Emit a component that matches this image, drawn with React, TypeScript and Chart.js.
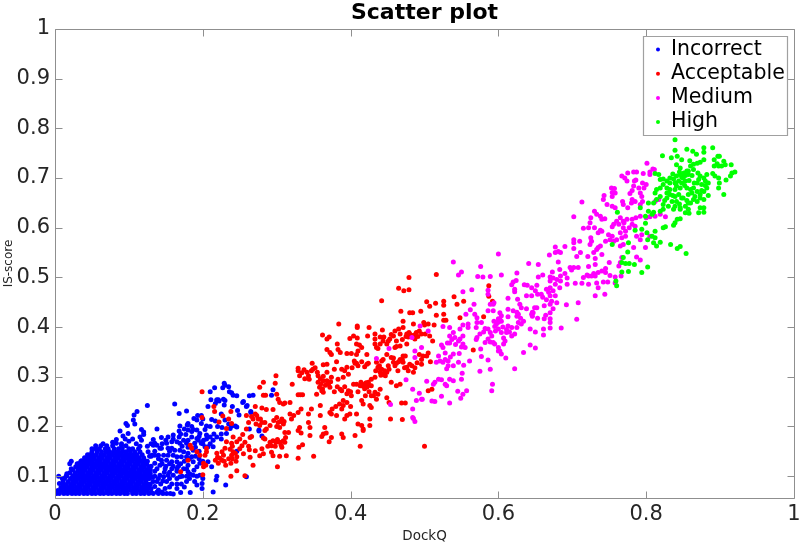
import React, { useEffect, useRef } from "react";
import { Chart, registerables } from "chart.js";

Chart.register(...registerables);

const xTickValues = [0, 0.2, 0.4, 0.6, 0.8, 1];
const yTickValues = [0.1, 0.2, 0.3, 0.4, 0.5, 0.6, 0.7, 0.8, 0.9, 1];
const seriesNames = ["Incorrect", "Acceptable", "Medium", "High"];
const seriesColors = ["#0000ff", "#ff0000", "#ff00ff", "#00ff00"];

// Dense mass near the origin: [IS-score, DockQ values...]
const incorrectDenseRows: [number, number[]][] = [
  [0.065, [.002,.006,.012,.017,.023,.028,.033,.039,.044,.05,.055,.061,.066,.072,.077,.083,.088,.094,.098,.105,.11,.116,.121,.127,.133,.14,.146,.151,.156]],
  [0.071, [.004,.009,.015,.02,.026,.031,.037,.042,.048,.053,.059,.064,.07,.075,.081,.086,.092,.097,.103,.108,.114,.119,.124]],
  [0.077, [.008,.012,.018,.023,.029,.034,.04,.045,.051,.056,.062,.067,.073,.078,.084,.089,.095,.1,.106,.111,.117,.122,.127]],
  [0.083, [.011,.015,.021,.026,.032,.037,.043,.048,.054,.059,.065,.07,.076,.081,.087,.092,.098,.103,.109,.114,.12,.125]],
  [0.089, [.011,.018,.024,.029,.035,.04,.046,.051,.057,.062,.068,.073,.079,.084,.09,.095,.101,.106,.112,.117,.123]],
  [0.095, [.013,.021,.027,.032,.038,.043,.049,.054,.06,.065,.071,.076,.082,.087,.093,.098,.104,.109,.115,.12,.126]],
  [0.101, [.016,.024,.03,.035,.041,.046,.052,.057,.063,.068,.074,.079,.085,.09,.096,.101,.107,.112,.118,.123,.128]],
  [0.107, [.02,.027,.033,.038,.044,.049,.055,.06,.066,.071,.077,.082,.088,.093,.099,.104,.11,.115,.121,.126]],
  [0.113, [.024,.031,.036,.041,.047,.052,.058,.063,.069,.074,.08,.085,.091,.096,.102,.107,.113,.118,.124,.129]],
  [0.119, [.028,.034,.039,.044,.05,.055,.061,.066,.072,.077,.083,.088,.094,.099,.105,.11,.116,.121,.127]],
  [0.125, [.032,.037,.042,.047,.053,.058,.064,.069,.075,.08,.086,.091,.097,.102,.108,.113,.119,.124]],
  [0.131, [.036,.04,.045,.05,.056,.061,.067,.072,.078,.083,.089,.094,.1,.105,.111,.116,.122]],
  [0.137, [.04,.043,.048,.053,.059,.064,.07,.075,.081,.086,.092,.097,.103,.108,.114,.12]],
  [0.143, [.044,.047,.051,.056,.062,.067,.073,.078,.084,.089,.095,.1,.106,.111,.118]],
  [0.149, [.05,.057,.063,.069,.074,.08,.085,.091,.096,.102,.108,.115]],
  [0.155, [.055,.06,.068,.072,.08,.086,.091,.1,.105,.113]],
  [0.161, [.055,.062,.07,.078,.09,.096]],
];

const incorrectSparse: [number, number][] = [
[.229,.287],[.235,.280],[.216,.278],[.210,.270],[.227,.278],[.230,.283],[.236,.270],[.239,.268],[.241,.263],[.246,.262],[.211,.254],[.219,.254],[.221,.254],[.219,.252],[.222,.251],[.230,.252],[.229,.243],[.217,.246],[.207,.240],[.263,.262],[.268,.263],[.254,.248],[.259,.240],[.247,.232],[.249,.223],[.265,.228],[.168,.226],[.178,.231],[.162,.245],[.125,.242],[.111,.230],[.107,.223],[.106,.213],[.108,.205],[.096,.206],[.098,.202],[.088,.191],[.099,.186],[.092,.181],[.138,.195],[.169,.201],[.168,.191],[.180,.206],[.179,.203],[.188,.216],[.193,.222],[.198,.222],[.192,.213],[.198,.206],[.205,.201],[.212,.214],[.217,.211],[.226,.198],[.230,.213],[.239,.201],[.244,.201],[.246,.199],[.237,.196],[.263,.195],[.276,.191],[.280,.181],[.259,.099],[.231,.082],[.214,.068],[.219,.100],[.218,.092],[.200,.095],[.199,.085],[.199,.075],[.183,.067],[.170,.067],[.160,.064],[.117,.194],[.120,.189],[.115,.179],[.120,.184],[.117,.172],[.083,.174],[.083,.166],[.133,.174],[.135,.166],[.144,.178],[.153,.179],[.160,.183],[.168,.179],[.177,.184],[.180,.193],[.187,.194],[.192,.193],[.196,.186],[.203,.194],[.205,.183],[.210,.179],[.214,.172],[.219,.179],[.225,.175],[.232,.186],[.246,.150],[.214,.159],[.207,.159],[.201,.172],[.192,.176],[.185,.179],[.180,.172],[.178,.166],[.174,.172],[.169,.166],[.165,.169],[.158,.169],[.151,.166],[.144,.156],[.153,.156],[.158,.156],[.162,.152],[.169,.152],[.174,.149],[.180,.146],[.187,.152],[.189,.166],[.194,.172],[.198,.166],[.203,.159],[.185,.139],[.178,.139],[.171,.139],[.165,.139],[.160,.142],[.153,.142],[.147,.142],[.140,.142],[.135,.142],[.131,.142],[.133,.162],[.138,.162],[.142,.156],[.126,.149],[.144,.132],[.151,.132],[.158,.129],[.165,.129],[.180,.122],[.187,.129],[.192,.119],[.207,.129],[.212,.119],[.196,.126],[.142,.122],[.135,.126],[.138,.115],[.149,.115],[.158,.115],[.167,.120],[.174,.115],[.178,.115],[.180,.109],[.187,.102],[.192,.100],[.196,.102],[.183,.104],[.169,.099],[.160,.102],[.153,.102],[.147,.099],[.142,.102],[.135,.100],[.151,.089],[.158,.084],[.165,.084],[.171,.084],[.178,.089],[.189,.089],[.192,.082],[.138,.089],[.143,.084],[.133,.089],[.149,.075],[.135,.079],[.129,.084],[.124,.085],[.120,.099],[.129,.105],[.124,.112],[.120,.119],[.295,.274],[.293,.263],[.255,.250],[.260,.242],[.265,.230],[.276,.193],
[.125,.13],[.13,.12],[.135,.11],[.128,.14],[.14,.135],[.145,.125],[.15,.12],[.155,.125],[.16,.12],[.165,.115],[.17,.125],[.175,.13],[.182,.135],[.19,.14],[.195,.135],[.2,.13],[.188,.112],[.178,.1],[.165,.11],[.155,.108],[.148,.108],[.14,.095],[.128,.095],[.132,.098],[.146,.09],[.155,.095],[.165,.095],[.172,.1],[.182,.095],[.13,.075],[.14,.072],[.155,.078],[.165,.075],[.175,.078],[.13,.068],[.138,.068],[.145,.068],[.125,.075],[.13,.14],[.135,.15],[.125,.16],[.13,.165],[.145,.165],[.15,.172],[.16,.175],[.172,.16],[.18,.158],[.19,.158],[.195,.15],[.155,.15],[.2,.165],[.21,.165],[.205,.175],[.195,.18],[.185,.19],[.175,.195],[.17,.185],[.215,.185],[.22,.2],[.21,.2],[.185,.2],[.2,.215],[.225,.185],[.235,.205],[.225,.225],[.24,.24],[.228,.255],[.11,.165],[.115,.16],[.1,.17],[.105,.175],[.09,.165],[.078,.168],[.095,.175],[.065,.165],[.05,.155],[.035,.13],[.03,.125],[.022,.115],[.015,.1],[.01,.095],[.006,.085],[.005,.1],[.02,.125],[.022,.13],[.016,.105],
];

const acceptable: [number, number][] = [
[.479,.500],[.516,.506],[.465,.478],[.472,.473],[.479,.475],[.442,.453],[.503,.451],[.507,.442],[.515,.448],[.526,.452],[.526,.444],[.540,.461],[.544,.446],[.553,.452],[.587,.483],[.587,.462],[.592,.452],[.468,.432],[.480,.429],[.484,.429],[.495,.432],[.516,.424],[.526,.426],[.526,.414],[.529,.414],[.548,.419],[.566,.354],[.580,.421],[.384,.406],[.409,.402],[.409,.399],[.425,.399],[.362,.384],[.371,.380],[.368,.376],[.433,.386],[.443,.394],[.404,.382],[.399,.377],[.409,.378],[.423,.382],[.433,.376],[.444,.372],[.453,.376],[.460,.392],[.465,.396],[.471,.399],[.471,.412],[.485,.406],[.499,.409],[.500,.404],[.505,.406],[.513,.404],[.476,.386],[.467,.386],[.458,.382],[.451,.372],[.449,.366],[.440,.366],[.433,.366],[.480,.386],[.485,.379],[.489,.389],[.496,.386],[.507,.382],[.511,.372],[.487,.376],[.467,.362],[.476,.366],[.462,.361],[.501,.386],[.460,.359],[.382,.366],[.383,.355],[.368,.355],[.372,.349],[.374,.345],[.386,.349],[.395,.347],[.401,.347],[.408,.366],[.412,.364],[.415,.359],[.410,.352],[.408,.345],[.435,.359],[.437,.357],[.422,.345],[.449,.345],[.424,.327],[.422,.325],[.406,.327],[.408,.327],[.381,.330],[.368,.325],[.363,.324],[.348,.327],[.349,.315],[.329,.317],[.329,.312],[.337,.314],[.331,.302],[.341,.309],[.343,.302],[.344,.295],[.355,.309],[.356,.302],[.363,.301],[.368,.309],[.378,.315],[.388,.315],[.395,.319],[.392,.312],[.397,.305],[.390,.299],[.383,.295],[.374,.299],[.363,.292],[.370,.285],[.356,.289],[.358,.279],[.299,.302],[.282,.289],[.277,.279],[.298,.287],[.321,.285],[.282,.263],[.285,.263],[.300,.265],[.302,.255],[.304,.248],[.309,.245],[.311,.247],[.318,.248],[.332,.264],[.329,.264],[.335,.264],[.354,.265],[.361,.272],[.363,.269],[.372,.279],[.386,.275],[.388,.272],[.397,.272],[.401,.262],[.404,.285],[.408,.285],[.413,.282],[.419,.285],[.424,.289],[.422,.279],[.428,.295],[.433,.299],[.440,.309],[.444,.305],[.449,.309],[.442,.315],[.437,.319],[.435,.329],[.442,.332],[.444,.335],[.455,.339],[.451,.322],[.458,.329],[.460,.322],[.462,.327],[.467,.335],[.471,.342],[.474,.342],[.471,.329],[.480,.325],[.476,.319],[.478,.312],[.483,.322],[.498,.342],[.496,.335],[.503,.342],[.496,.325],[.462,.282],[.455,.289],[.467,.285],[.485,.309],[.433,.269],[.437,.265],[.428,.262],[.431,.262],[.415,.252],[.417,.245],[.426,.242],[.428,.238],[.449,.258],[.452,.248],[.469,.247],[.474,.247],[.454,.215],[.470,.214],[.500,.160],[.505,.272],[.510,.275],[.359,.242],[.347,.235],[.343,.225],[.359,.222],[.372,.228],[.374,.225],[.381,.222],[.390,.252],[.390,.242],[.388,.235],[.395,.222],[.392,.215],[.399,.225],[.408,.225],[.410,.205],[.415,.202],[.417,.195],[.417,.192],[.426,.215],[.426,.202],[.413,.160],[.406,.182],[.388,.185],[.390,.178],[.374,.178],[.365,.198],[.363,.185],[.367,.187],[.371,.169],[.361,.180],[.343,.208],[.345,.198],[.345,.182],[.331,.198],[.329,.192],[.333,.187],[.330,.158],[.335,.163],[.329,.228],[.333,.235],[.318,.225],[.323,.222],[.320,.215],[.316,.188],[.311,.188],[.309,.171],[.311,.168],[.307,.158],[.295,.171],[.299,.168],[.304,.168],[.291,.168],[.293,.161],[.286,.195],[.284,.192],[.291,.202],[.300,.218],[.302,.208],[.307,.215],[.309,.205],[.277,.202],[.275,.215],[.273,.222],[.271,.225],[.280,.208],[.284,.208],[.271,.240],[.280,.237],[.286,.234],[.295,.234],[.259,.222],[.262,.208],[.259,.195],[.264,.178],[.266,.180],[.254,.184],[.257,.168],[.253,.161],[.263,.153],[.271,.151],[.282,.177],[.284,.175],[.280,.155],[.277,.141],[.282,.145],[.293,.148],[.295,.141],[.304,.140],[.313,.141],[.264,.138],[.350,.140],[.329,.136],
[.199,.270],[.215,.240],[.216,.230],[.199,.218],[.222,.209],[.238,.230],[.235,.215],[.232,.196],[.227,.221],[.239,.206],[.183,.162],[.185,.156],[.192,.149],[.196,.142],[.205,.156],[.205,.149],[.203,.142],[.180,.132],[.201,.126],[.204,.122],[.201,.119],[.170,.109],[.200,.103],[.219,.146],[.226,.149],[.228,.142],[.223,.136],[.217,.132],[.221,.126],[.231,.122],[.238,.126],[.226,.132],[.239,.142],[.244,.146],[.246,.139],[.241,.149],[.239,.166],[.246,.169],[.241,.179],[.232,.169],[.230,.156],[.237,.154],[.238,.100],[.246,.111],[.257,.101],[.268,.122],[.301,.119],
[.417,.281],[.421,.288],[.425,.283],[.419,.276],[.428,.282],[.414,.289],[.478,.380],[.482,.383],[.486,.384],[.479,.389],[.491,.381],[.475,.381],[.493,.392],[.44,.316],[.446,.312],[.441,.303],[.447,.302],[.452,.315],[.439,.322],[.434,.312],[.360,.286],[.366,.283],[.362,.276],[.368,.292],[.373,.290],[.359,.296],[.405,.332],[.41,.322],[.402,.318],[.415,.33],[.419,.320],[.378,.270],[.382,.280],[.392,.280],[.395,.266],[.40,.27],[.305,.21],[.300,.2],[.296,.212],[.304,.198],[.31,.21],[.268,.215],[.272,.205],[.278,.215],[.266,.22],[.306,.162],[.301,.174],[.312,.178],[.298,.16],[.288,.16],[.465,.33],[.47,.335],[.458,.338],[.473,.318],[.464,.312],[.487,.318],[.49,.328],[.505,.348],[.493,.345],[.508,.33],[.334,.308],[.338,.296],[.347,.312],[.352,.318],[.385,.245],[.395,.248],[.38,.24],[.375,.235],[.40,.24],[.44,.275],[.425,.27],[.41,.27],[.42,.262],[.435,.255],[.445,.38],[.455,.385],[.44,.38],[.462,.372],[.47,.375],[.235,.135],[.229,.13],[.24,.135],[.245,.13],[.22,.138],[.24,.16],[.25,.155],[.25,.175],[.255,.145],[.262,.16],
];

const medium: [number, number][] = [
[.600,.547],[.539,.531],[.550,.511],[.546,.505],[.576,.522],[.572,.502],[.579,.501],[.589,.502],[.604,.505],[.625,.509],[.641,.528],[.654,.526],[.624,.494],[.620,.491],[.618,.485],[.622,.476],[.622,.471],[.635,.485],[.639,.484],[.645,.479],[.652,.484],[.660,.505],[.654,.501],[.670,.501],[.674,.499],[.670,.493],[.673,.511],[.669,.545],[.677,.550],[.681,.552],[.677,.561],[.681,.531],[.683,.516],[.679,.496],[.677,.486],[.683,.479],[.708,.449],[.706,.416],[.692,.445],[.685,.398],[.744,.466],[.731,.463],
[.670,.398],[.661,.384],[.650,.390],[.643,.396],[.650,.358],[.643,.364],[.634,.349],[.622,.316],[.610,.338],[.604,.346],[.600,.352],[.586,.334],[.577,.341],[.576,.356],[.575,.311],[.589,.315],[.592,.285],[.591,.272],[.557,.272],[.552,.265],[.545,.271],[.549,.257],[.534,.247],[.523,.261],[.514,.250],[.510,.251],[.497,.255],[.489,.252],[.484,.235],[.484,.218],[.493,.267],[.484,.275],[.475,.294],[.503,.291],[.512,.285],[.514,.289],[.519,.295],[.523,.294],[.528,.285],[.530,.282],[.534,.295],[.539,.292],[.550,.295],[.551,.307],[.561,.332],[.553,.323],[.546,.329],[.539,.322],[.530,.316],[.532,.322],[.532,.332],[.525,.329],[.519,.342],[.521,.332],[.516,.329],[.539,.346],[.547,.347],[.528,.348],[.523,.364],[.525,.359],[.531,.368],[.534,.368],[.548,.376],[.552,.366],[.555,.359],[.546,.372],[.552,.382],[.541,.379],[.534,.382],[.539,.389],[.548,.396],[.552,.404],[.559,.406],[.559,.399],[.534,.399],[.525,.401],[.556,.426],[.562,.435],[.567,.446],[.552,.471],[.564,.475],[.568,.426],[.571,.419],[.571,.409],[.577,.409],[.570,.399],[.575,.386],[.571,.379],[.582,.397],[.586,.396],[.589,.389],[.591,.382],[.586,.376],[.582,.369],[.589,.370],[.593,.369],[.595,.366],[.600,.359],[.602,.352],[.607,.366],[.609,.372],[.618,.382],[.622,.386],[.611,.389],[.604,.389],[.600,.396],[.595,.401],[.598,.409],[.602,.416],[.604,.412],[.600,.417],[.613,.421],[.613,.402],[.618,.399],[.625,.399],[.627,.409],[.631,.406],[.634,.412],[.625,.422],[.627,.426],[.620,.433],[.613,.436],[.613,.458],[.626,.456],[.629,.446],[.631,.439],[.638,.437],[.647,.429],[.645,.426],[.649,.439],[.652,.439],[.646,.422],[.662,.417],[.664,.424],[.670,.429],[.674,.437],[.662,.443],[.670,.446],[.679,.449],[.677,.463],[.670,.463],[.674,.473],[.670,.479],[.665,.476],[.658,.466],[.653,.466],[.645,.463],[.638,.463],[.650,.473],[.589,.446],[.593,.446],[.586,.466],[.586,.474],[.594,.449],[.602,.429],[.604,.423],[.593,.433],[.586,.433],[.670,.417],[.670,.409],[.661,.396],[.483,.379],[.494,.402],[.505,.392],[.496,.359],[.487,.352],[.487,.339],[.435,.337],[.452,.357],[.454,.244],[.496,.255],[.485,.216],[.487,.210],
[.801,.730],[.809,.718],[.805,.712],[.811,.717],[.767,.704],[.771,.700],[.774,.694],[.775,.710],[.783,.712],[.787,.712],[.796,.709],[.805,.707],[.784,.694],[.786,.696],[.795,.690],[.800,.687],[.783,.684],[.781,.675],[.790,.680],[.797,.680],[.753,.680],[.757,.679],[.754,.671],[.758,.670],[.743,.665],[.742,.657],[.754,.663],[.778,.669],[.792,.670],[.794,.663],[.713,.652],[.747,.647],[.754,.643],[.758,.640],[.768,.653],[.769,.647],[.781,.657],[.785,.653],[.795,.653],[.792,.647],[.812,.653],[.817,.657],[.812,.623],[.819,.627],[.826,.622],[.702,.622],[.730,.633],[.733,.627],[.738,.623],[.740,.617],[.744,.618],[.725,.620],[.724,.610],[.738,.595],[.740,.593],[.735,.590],[.715,.599],[.756,.607],[.760,.613],[.763,.607],[.754,.602],[.769,.613],[.774,.617],[.781,.617],[.786,.620],[.792,.623],[.800,.620],[.805,.622],[.781,.607],[.785,.603],[.769,.600],[.772,.593],[.765,.590],[.749,.586],[.754,.583],[.751,.576],[.756,.573],[.760,.576],[.767,.580],[.772,.583],[.787,.583],[.794,.586],[.792,.576],[.805,.583],[.799,.560],[.783,.560],[.769,.566],[.765,.563],[.745,.573],[.738,.563],[.733,.556],[.729,.550],[.725,.580],[.726,.573],[.724,.566],[.711,.550],[.702,.576],[.702,.570],[.710,.573],[.702,.558],[.690,.562],[.684,.550],[.706,.542],[.721,.542],[.731,.538],[.740,.546],[.767,.540],[.787,.541],[.792,.535],[.765,.530],[.763,.523],[.697,.520],[.702,.520],[.708,.520],[.699,.515],[.722,.522],[.731,.526],[.745,.518],[.740,.513],[.735,.510],[.729,.508],[.731,.503],[.726,.503],[.722,.503],[.690,.508],[.693,.499],[.684,.503],[.751,.504],[.758,.501],[.766,.503],[.704,.488],[.713,.488],[.722,.486],[.733,.489],[.742,.491],[.748,.491],[.758,.489],[.693,.486],[.684,.493],[.735,.479],
[.597,.405],[.6,.41],[.594,.412],[.606,.40],[.611,.395],[.615,.39],[.596,.392],[.607,.378],[.625,.43],[.63,.418],[.646,.43],[.653,.418],[.668,.47],[.66,.46],[.665,.455],[.672,.452],[.58,.39],[.57,.375],[.542,.365],[.537,.375],[.55,.36],[.528,.335],[.535,.34],[.72,.505],[.715,.50],[.745,.51],[.75,.53],[.735,.56],[.77,.61],[.777,.6],[.765,.62],[.78,.65],[.775,.64],[.73,.6],[.722,.6],
];

const high: [number, number][] = [
[.839,.777],[.839,.756],[.855,.758],[.878,.761],[.890,.761],[.863,.754],[.868,.748],[.878,.752],[.822,.745],[.834,.741],[.842,.744],[.897,.744],[.899,.744],[.892,.737],[.859,.735],[.848,.737],[.878,.737],[.873,.732],[.864,.728],[.869,.730],[.905,.734],[.907,.727],[.915,.727],[.896,.729],[.898,.724],[.902,.724],[.892,.724],[.860,.724],[.841,.727],[.846,.720],[.855,.714],[.851,.710],[.857,.714],[.864,.717],[.836,.708],[.841,.704],[.846,.707],[.848,.702],[.853,.705],[.857,.707],[.817,.707],[.812,.709],[.832,.700],[.837,.698],[.823,.698],[.828,.694],[.819,.697],[.832,.690],[.839,.690],[.844,.694],[.848,.690],[.853,.694],[.873,.704],[.878,.700],[.882,.707],[.890,.709],[.893,.704],[.898,.700],[.916,.710],[.920,.712],[.914,.704],[.908,.696],[.899,.690],[.898,.680],[.905,.667],
[.884,.690],[.880,.694],[.871,.697],[.869,.690],[.875,.687],[.882,.680],[.878,.673],[.884,.665],[.873,.667],[.869,.673],[.864,.680],[.860,.677],[.855,.680],[.841,.684],[.846,.680],[.839,.677],[.832,.677],[.828,.680],[.823,.687],[.819,.680],[.814,.677],[.812,.670],[.828,.670],[.832,.667],[.839,.663],[.844,.667],[.848,.660],[.841,.653],[.835,.653],[.828,.660],[.819,.663],[.814,.657],[.810,.650],[.803,.650],[.823,.647],[.830,.643],[.839,.643],[.846,.640],[.853,.643],[.857,.650],[.864,.657],[.869,.653],[.873,.660],[.878,.657],[.857,.667],[.862,.670],[.866,.663],[.857,.637],[.853,.630],[.846,.637],[.837,.637],[.823,.637],[.819,.633],[.878,.640],[.873,.640],[.871,.630],[.878,.631],[.858,.629],[.842,.617],[.846,.618],[.839,.610],[.837,.605],[.826,.602],[.823,.600],[.810,.631],[.803,.633],[.799,.623],[.808,.627],[.792,.640],[.761,.631],[.799,.609],[.794,.597],[.785,.595],[.801,.590],[.812,.593],[.808,.583],[.802,.576],[.812,.580],[.776,.570],[.754,.566],[.819,.571],[.810,.570],[.814,.563],[.833,.566],[.846,.562],[.842,.558],[.854,.548],[.775,.551],[.769,.540],[.767,.530],[.772,.528],[.777,.528],[.784,.526],[.802,.521],[.776,.512],[.794,.510],[.767,.511],[.759,.493],[.760,.483],
[.85,.70],[.858,.695],[.862,.705],[.845,.712],[.84,.69],[.852,.685],[.87,.71],[.83,.67],[.836,.665],[.825,.655],[.865,.69],[.875,.675],[.85,.66],[.855,.655],[.86,.65],[.845,.648],[.88,.685],
];

const incorrect: [number, number][] = [
  ...incorrectDenseRows.flatMap(([y, xs]) => xs.map((x): [number, number] => [x, y])),
  ...incorrectSparse,
];
const seriesPoints = [incorrect, acceptable, medium, high];

const FONT = "'DejaVu Sans', sans-serif";
const TEXT = "#262626";
const AXIS = "#8f8f8f";

const framePlugin = {
  id: "frame",
  afterDatasetsDraw(chart: any) {
    const { ctx, chartArea: a, scales } = chart;
    ctx.save();
    ctx.strokeStyle = AXIS;
    ctx.lineWidth = 1;
    const L = Math.round(a.left) + 0.5, R = Math.round(a.right) + 0.5;
    const T = Math.round(a.top) + 0.5, B = Math.round(a.bottom) + 0.5;
    ctx.beginPath();
    for (const v of xTickValues) {
      const p = Math.round(scales.x.getPixelForValue(v)) + 0.5;
      ctx.moveTo(p, B); ctx.lineTo(p, B - 7);
      ctx.moveTo(p, T); ctx.lineTo(p, T + 7);
    }
    for (const v of yTickValues) {
      const p = Math.round(scales.y.getPixelForValue(v)) + 0.5;
      ctx.moveTo(L, p); ctx.lineTo(L + 7, p);
      ctx.moveTo(R, p); ctx.lineTo(R - 7, p);
    }
    ctx.rect(L, T, R - L, B - T);
    ctx.stroke();
    ctx.restore();
  },
  afterDraw(chart: any) {
    const { ctx } = chart;
    ctx.save();
    ctx.fillStyle = "#ffffff";
    ctx.strokeStyle = "#a0a0a0";
    ctx.lineWidth = 1.2;
    ctx.beginPath();
    ctx.rect(643.5, 36.5, 144, 99);
    ctx.fill();
    ctx.stroke();
    ctx.font = `20.5px ${FONT}`;
    ctx.textBaseline = "middle";
    ctx.textAlign = "left";
    chart.data.datasets.forEach((d: any, i: number) => {
      const y = 49.5 + i * 24.2;
      ctx.fillStyle = d.backgroundColor;
      ctx.beginPath();
      ctx.arc(658, y, 2, 0, Math.PI * 2);
      ctx.fill();
      ctx.fillStyle = "#000000";
      ctx.fillText(d.label, 671, y);
    });
    ctx.restore();
  },
};

export default function App() {
  const ref = useRef<HTMLCanvasElement>(null);
  useEffect(() => {
    const chart = new Chart(ref.current as HTMLCanvasElement, {
      type: "scatter",
      data: {
        datasets: seriesNames.map((label, i) => ({
          label,
          data: seriesPoints[i],
          backgroundColor: seriesColors[i],
          pointRadius: 2.5,
          pointBorderWidth: 0,
          order: seriesNames.length - i,
        })),
      },
      options: {
        animation: false,
        responsive: false,
        layout: { padding: { right: 6 } },
        plugins: {
          legend: { display: false },
          tooltip: { enabled: false },
          title: {
            display: true,
            text: "Scatter plot",
            fullSize: false,
            color: "#000000",
            font: { family: FONT, size: 22, weight: "bold", lineHeight: 1.2 },
            padding: { top: 0, bottom: 2.6 },
          },
        },
        scales: {
          x: {
            type: "linear",
            min: 0,
            max: 1,
            afterFit: (s: any) => { s.height = 47; s.paddingLeft = 0; s.paddingRight = 0; },
            afterBuildTicks: (s: any) => { s.ticks = xTickValues.map((value) => ({ value })); },
            grid: { display: false, drawTicks: false },
            border: { display: false },
            ticks: { color: TEXT, font: { family: FONT, size: 21 }, padding: 4, maxRotation: 0, callback: (v: any) => String(v) },
            title: { display: true, text: "DockQ", color: TEXT, font: { family: FONT, size: 13.5 }, padding: { top: 0, bottom: 0 } },
          },
          y: {
            type: "linear",
            min: 0.056,
            max: 1,
            afterFit: (s: any) => { s.width = 55; s.paddingTop = 0; s.paddingBottom = 0; },
            afterBuildTicks: (s: any) => { s.ticks = yTickValues.map((value) => ({ value })); },
            grid: { display: false, drawTicks: false },
            border: { display: false },
            ticks: { color: TEXT, font: { family: FONT, size: 21 }, padding: 5, callback: (v: any) => String(v) },
            title: { display: true, text: "IS-score", color: TEXT, font: { family: FONT, size: 12 }, padding: { top: 2, bottom: 0 } },
          },
        },
      },
      plugins: [framePlugin],
    } as any);
    return () => chart.destroy();
  }, []);
  return (
    <div style={{ position: "absolute", left: 0, top: 0, width: 800, height: 545 }}>
      <canvas ref={ref} width={800} height={545} style={{ display: "block" }} />
    </div>
  );
}
